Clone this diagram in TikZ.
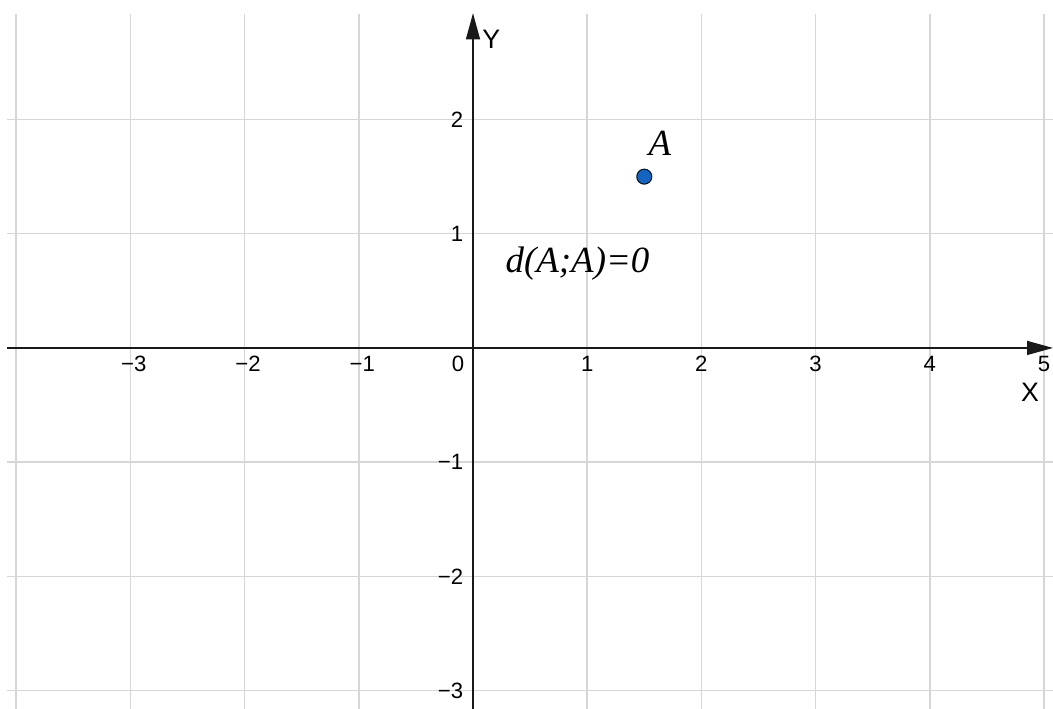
\documentclass[tikz,border=0pt]{standalone}
\usepackage{fontspec}
\setmainfont{Liberation Sans}
\newfontfamily\serifit{Liberation Serif}[ItalicFont={Liberation Serif Italic}]
\usetikzlibrary{arrows.meta}
\definecolor{gridgray}{RGB}{214,214,214}
\definecolor{axisgray}{RGB}{25,25,25}
\definecolor{ptblue}{RGB}{21,101,192}
\begin{document}
\begin{tikzpicture}[x=1.142cm,y=1.142cm,
  gridline/.style={draw=gridgray,line width=0.42pt},
  axisline/.style={draw=axisgray,line width=0.42pt,-{Triangle[length=0.26cm,width=0.14cm]}},
  ticklab/.style={inner sep=0pt,font=\fontsize{6.3pt}{7pt}\selectfont},
  axislab/.style={inner sep=0pt,font=\fontsize{7.6pt}{8pt}\selectfont},
  pointstyle/.style={circle,fill=ptblue,draw=black!80!ptblue,line width=0.3pt,minimum size=0.15cm,inner sep=0pt},
  mathlab/.style={inner sep=0pt,font=\serifit\itshape\fontsize{10.5pt}{12pt}\selectfont}]
\useasboundingbox (-4.142,-3.161) rectangle (5.079,3.047);
\fill[white] (-4.142,-3.161) rectangle (5.079,3.047);
% grid
\foreach \i in {-4,...,5} \draw[gridline] (\i,-3.161) -- (\i,2.925);
\foreach \j in {-3,-2,-1,1,2} \draw[gridline] (-4.08,\j) -- (5.079,\j);
% axes
\coordinate (xl) at (-4.08,0);
\coordinate (xr) at (5.079,0);
\coordinate (yb) at (0,-3.161);
\coordinate (yt) at (0,2.93);
\draw[axisline] (xl) -- (xr);
\draw[axisline] (yb) -- (yt);
% tick labels
\foreach \i/\t in {-3/−3,-2/−2,-1/−1}
  \node[ticklab] (xt\i) at (\i+0.03,-0.14) {\t};
\foreach \i in {1,...,5}
  \node[ticklab] (xt\i) at (\i,-0.14) {\i};
\node[ticklab] (zero) at (-0.13,-0.14) {0};
\foreach \j/\t in {-3/−3,-2/−2,-1/−1,1/1,2/2}
  \node[ticklab,anchor=east] (yt\j) at (-0.08,\j) {\t};
% axis names
\node[axislab] (Y) at (0.16,2.706) {Y};
\node[axislab] (X) at (4.877,-0.385) {X};
% point
\node[pointstyle] (A) at (1.5,1.5) {};
\node[mathlab] (Alab) at (1.637,1.795) {A};
\node[mathlab,anchor=base west] (dist) at (0.28,0.665) {d(A;A)=0};
\end{tikzpicture}
\end{document}
